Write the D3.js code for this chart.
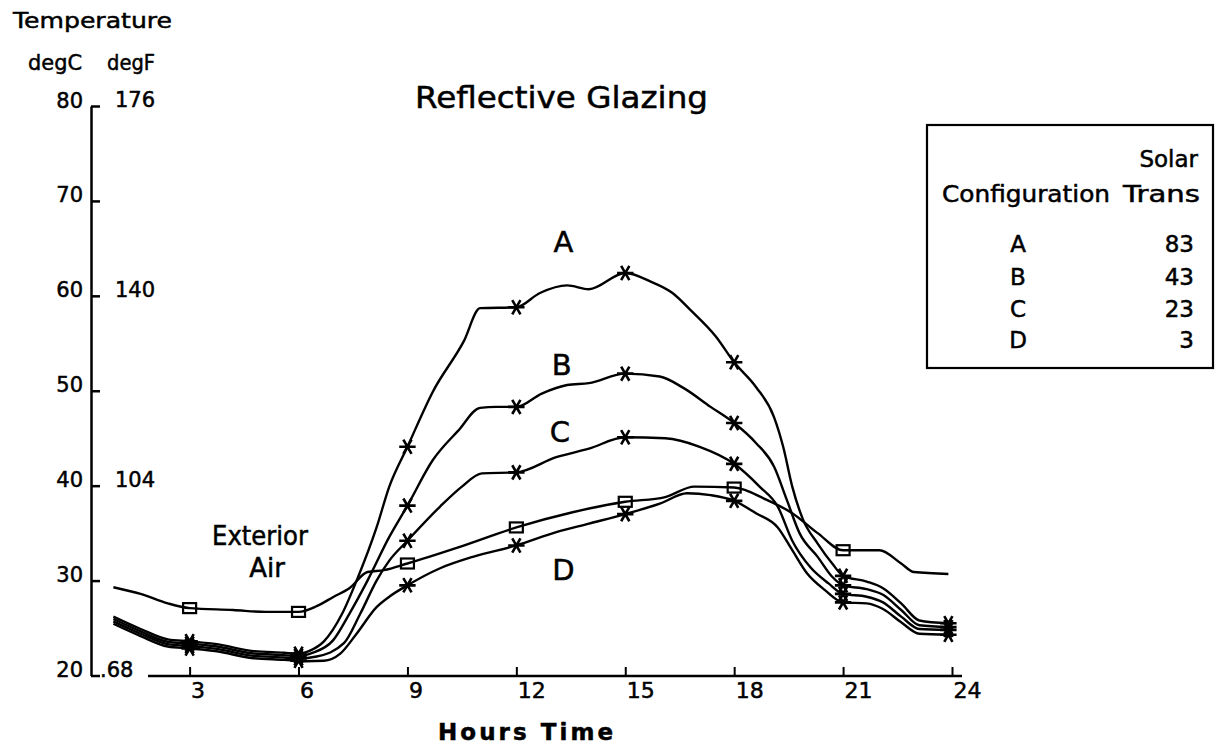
<!DOCTYPE html>
<html><head><meta charset="utf-8">
<script src="https://cdn.jsdelivr.net/npm/d3@7"></script>
<style>
body{margin:0;background:#fff}
text{font-family:"DejaVu Sans",sans-serif;fill:#000;stroke:#000;stroke-width:0.5px}
</style>
</head><body>
<svg id="c" width="1225" height="746"></svg>
<script>
// ---------- data ----------
const configNames = ["A", "B", "C", "D"];
const solarTrans = ["83", "43", "23", "3"];
const xTicks = [3, 6, 9, 12, 15, 18, 21, 24];
const cTicks = [20, 30, 40, 50, 60, 70, 80];
const fTicks = [80, 60, 40, 20];
const fLabels = ["176", "140", "104", ".68"];
const markerHours = [3, 6, 9, 12, 15, 18, 21];
const endHour = 23.9;

// [hour, degC]
const exteriorAir = [[0.9,29.3],[1.65,28.6],[2.4,27.6],[3,27.1],[4.2,26.9],[5.1,26.7],[6,26.7],[6.5,27.3],[6.97,28.3],[7.4,29.2],[7.9,30.9],[8.35,31.1],[9,31.8],[10.4,33.5],[12,35.6],[13.55,37.2],[15,38.3],[16.1,38.8],[16.9,39.9],[18,39.8],[18.9,38.5],[19.6,37.1],[20.3,35.0],[21,33.2],[22.0,33.2],[22.6,31.8],[22.95,30.9],[23.9,30.7]];

const configA = [[0.9,26.2],[1.65,24.9],[2.4,23.8],[3,23.6],[3.75,23.3],[4.7,22.6],[5.6,22.4],[6,22.3],[6.3,22.6],[6.7,23.6],[7.2,26.5],[7.6,30.0],[8.15,35.6],[8.5,39.9],[9,44.1],[9.7,49.9],[10.55,55.2],[11.0,58.7],[12,58.8],[12.65,60.3],[13.4,61.1],[14.0,60.7],[15,62.4],[15.7,61.5],[16.3,60.3],[16.8,58.5],[17.5,55.7],[18,53.0],[18.6,50.4],[19.1,47.2],[19.35,44.1],[19.6,39.9],[19.9,36.4],[20.3,33.9],[20.7,31.8],[21,30.5],[21.65,29.9],[22.1,29.2],[22.6,27.6],[23.1,25.8],[23.9,25.5]];

const configB = [[0.9,25.95],[1.65,24.65],[2.4,23.55],[3,23.35],[3.75,23.05],[4.7,22.35],[5.6,22.15],[6,22.05],[6.4,22.4],[6.95,23.7],[7.4,26.5],[7.9,30.0],[8.5,34.6],[9,37.9],[9.7,42.7],[10.4,45.8],[11.0,48.2],[11.45,48.3],[12,48.3],[12.7,49.7],[13.4,50.6],[14.0,50.8],[15,51.8],[15.95,51.5],[16.6,50.3],[17.35,48.3],[18,46.6],[18.6,44.5],[19.1,42.0],[19.45,38.5],[19.8,35.0],[20.3,32.5],[20.7,30.4],[21,29.5],[21.65,29.1],[22.1,28.5],[22.6,26.9],[23.1,25.3],[23.9,25.1]];

const configC = [[0.9,25.7],[1.65,24.4],[2.4,23.3],[3,23.1],[3.75,22.8],[4.7,22.1],[5.6,21.9],[6,21.8],[6.5,22.0],[7.25,23.4],[7.7,26.5],[8.15,30.0],[8.5,32.1],[9,34.2],[9.9,37.8],[10.5,39.9],[11.05,41.3],[12,41.4],[13.1,43.0],[14.0,43.9],[15,45.1],[16.1,45.0],[17.05,44.1],[18,42.3],[18.7,39.9],[19.2,37.8],[19.6,34.2],[20.1,31.4],[20.6,29.7],[21,28.6],[21.65,28.3],[22.1,27.7],[22.6,26.2],[23.1,24.9],[23.9,24.8]];

const configD = [[0.9,25.45],[1.65,24.15],[2.4,23.05],[3,22.85],[3.75,22.55],[4.7,21.85],[5.6,21.65],[6,21.55],[6.2,21.5],[6.7,21.55],[7.15,22.3],[7.6,24.4],[8.15,27.2],[8.5,28.3],[9,29.5],[9.9,31.3],[10.8,32.5],[12,33.7],[13.1,35.1],[14.0,36.0],[15,37.0],[15.95,38.1],[16.7,39.2],[17.35,39.0],[18,38.4],[18.6,37.1],[19.2,35.6],[19.6,33.2],[20.0,30.8],[20.5,29.0],[21,27.7],[21.65,27.6],[22.1,27.0],[22.6,25.6],[23.1,24.4],[23.9,24.3]];

// label anchor points [hour, degC]
const labelPos = [[13.3, 65.8], [13.25, 52.8], [13.2, 45.8], [13.3, 31.2]];

// ---------- drawing ----------
const svg = d3.select("#c");
const x = d3.scaleLinear().domain([0, 24]).range([80.7, 952]);
const y = d3.scaleLinear().domain([20, 80]).range([675.5, 106]);

const line = d3.line().x(d => x(d[0])).y(d => y(d[1])).curve(d3.curveMonotoneX);

// Y axis (degC)
const yAxis = svg.append("g").attr("transform", "translate(91,0)")
  .call(d3.axisLeft(y).tickValues(cTicks).tickSizeInner(-9).tickSizeOuter(0).tickPadding(8).tickFormat(d3.format("d")));
yAxis.select(".domain").attr("stroke", "#000").attr("stroke-width", 2.5);
yAxis.selectAll(".tick line").attr("stroke", "#000").attr("stroke-width", 2.5);
yAxis.selectAll(".tick text").attr("dy", "0.05em").style("font-size", "21px").attr("font-family", null);

// degF labels
svg.append("g").selectAll("text").data(fTicks).join("text")
  .attr("x", (d, i) => fLabels[i].startsWith(".") ? 100 : 115)
  .attr("y", d => y(d) + 1)
  .style("font-size", "21px")
  .text((d, i) => fLabels[i]);

// X axis
const xAxis = svg.append("g").attr("transform", "translate(0,676)")
  .call(d3.axisBottom(x).tickValues(xTicks).tickSizeInner(-9).tickSizeOuter(0).tickPadding(0).tickFormat(d3.format("d")));
xAxis.select(".domain").remove();
xAxis.append("line").attr("x1", 148).attr("x2", 962).attr("y1", 0).attr("y2", 0)
  .attr("stroke", "#000").attr("stroke-width", 2.5);
xAxis.selectAll(".tick line").attr("stroke", "#000").attr("stroke-width", 2);
xAxis.selectAll(".tick text").attr("text-anchor", "start").attr("dx", 1).attr("y", 22).attr("dy", 0)
  .style("font-size", "22px").attr("font-family", null);

// Axis titles
svg.append("text").attr("x", 13).attr("y", 28).attr("textLength", 159).attr("lengthAdjust", "spacingAndGlyphs")
  .style("font-size", "22px").text("Temperature");
svg.append("text").attr("x", 28).attr("y", 70).attr("textLength", 54).attr("lengthAdjust", "spacingAndGlyphs")
  .style("font-size", "22px").text("degC");
svg.append("text").attr("x", 107).attr("y", 70).attr("textLength", 48).attr("lengthAdjust", "spacingAndGlyphs")
  .style("font-size", "22px").text("degF");
svg.append("text").attr("x", 438).attr("y", 740).attr("textLength", 175).attr("lengthAdjust", "spacing")
  .style("font-size", "23px").style("font-weight", "bold").text("Hours Time");
svg.append("text").attr("x", 415).attr("y", 107.5).attr("textLength", 293).attr("lengthAdjust", "spacingAndGlyphs")
  .style("font-size", "30px").text("Reflective Glazing");

// Lines
const allConfigs = [configA, configB, configC, configD];
const gLines = svg.append("g").attr("fill", "none").attr("stroke", "#000").attr("stroke-width", 2.4);
gLines.append("path").attr("d", line(exteriorAir));
allConfigs.forEach(s => gLines.append("path").attr("d", line(s)));

// Markers: squares on exterior air
const extMarks = exteriorAir.filter(d => markerHours.includes(d[0]));
svg.append("g").selectAll("rect").data(extMarks).join("rect")
  .attr("x", d => x(d[0]) - 6.5).attr("y", d => y(d[1]) - 5)
  .attr("width", 13).attr("height", 10)
  .attr("fill", "none").attr("stroke", "#000").attr("stroke-width", 2.2);

// Markers: asterisks on configurations
const star = d3.symbol().type(d3.symbolAsterisk).size(190);
allConfigs.forEach(s => {
  const pts = s.filter(d => markerHours.includes(d[0]) || d[0] === endHour);
  svg.append("g").selectAll("path").data(pts).join("path")
    .attr("transform", d => `translate(${x(d[0])},${y(d[1])}) rotate(90)`)
    .attr("d", star()).attr("fill", "none").attr("stroke", "#000").attr("stroke-width", 2.6);
});

// Curve labels
svg.append("g").selectAll("text").data(configNames).join("text")
  .attr("x", (d, i) => x(labelPos[i][0])).attr("y", (d, i) => y(labelPos[i][1]) + 11)
  .attr("text-anchor", "middle").style("font-size", "29px").text(d => d);

svg.append("text").attr("x", 212).attr("y", 545).attr("textLength", 96).attr("lengthAdjust", "spacingAndGlyphs")
  .style("font-size", "26px").text("Exterior");
svg.append("text").attr("x", 267).attr("y", 577).attr("text-anchor", "middle")
  .style("font-size", "26px").text("Air");

// Legend box
const lg = svg.append("g");
lg.append("rect").attr("x", 927).attr("y", 125).attr("width", 286).attr("height", 243)
  .attr("fill", "none").attr("stroke", "#000").attr("stroke-width", 2.2);
lg.append("text").attr("x", 1198).attr("y", 167).attr("text-anchor", "end").style("font-size", "23px").text("Solar");
lg.append("text").attr("x", 942).attr("y", 202).attr("textLength", 168).attr("lengthAdjust", "spacingAndGlyphs")
  .style("font-size", "23px").text("Configuration");
lg.append("text").attr("x", 1123).attr("y", 202).attr("textLength", 77).attr("lengthAdjust", "spacingAndGlyphs")
  .style("font-size", "23px").text("Trans");
const rowY = [252, 285, 317, 348];
lg.selectAll("text.cfg").data(configNames).join("text").attr("class", "cfg")
  .attr("x", 1018).attr("y", (d, i) => rowY[i]).attr("text-anchor", "middle").style("font-size", "23px").text(d => d);
lg.selectAll("text.val").data(solarTrans).join("text").attr("class", "val")
  .attr("x", 1194).attr("y", (d, i) => rowY[i]).attr("text-anchor", "end").style("font-size", "23px").text(d => d);
</script>
</body></html>
